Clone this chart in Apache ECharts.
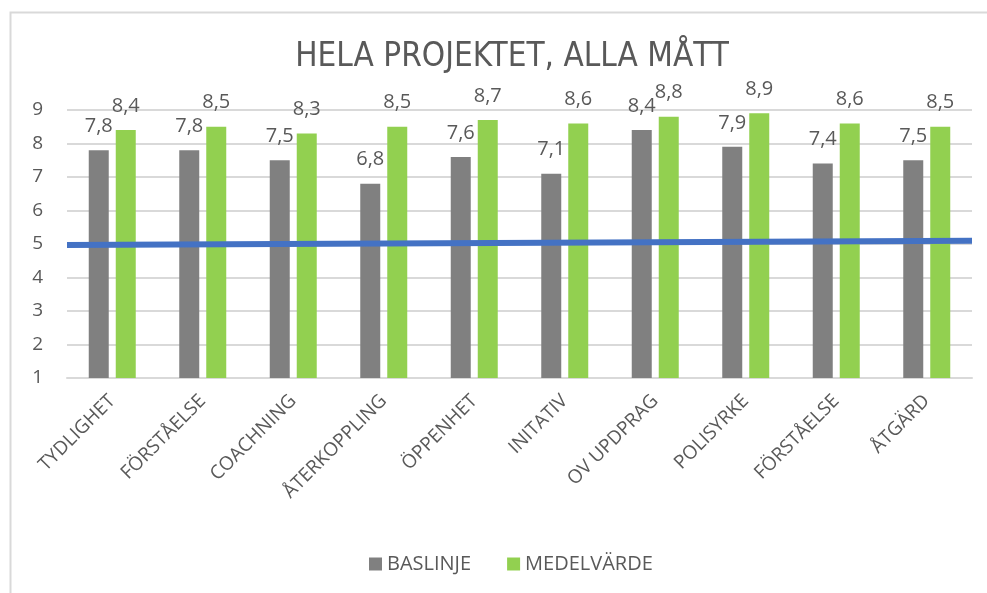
<!DOCTYPE html>
<html>
<head>
<meta charset="utf-8">
<script src="https://cdn.jsdelivr.net/npm/echarts@6/dist/echarts.min.js"></script>
<style>
  html, body { margin: 0; padding: 0; background: #fff; }
  #chart { width: 987px; height: 593px; }
</style>
</head>
<body>
<div id="chart"></div>
<script>
// Data
const categories = ['TYDLIGHET', 'FÖRSTÅELSE', 'COACHNING', 'ÅTERKOPPLING', 'ÖPPENHET',
                    'INITATIV', 'OV UPDPRAG', 'POLISYRKE', 'FÖRSTÅELSE', 'ÅTGÄRD'];
const baslinje = [7.8, 7.8, 7.5, 6.8, 7.6, 7.1, 8.4, 7.9, 7.4, 7.5];
const medelvarde = [8.4, 8.5, 8.3, 8.5, 8.7, 8.6, 8.8, 8.9, 8.6, 8.5];
// blue reference line, from left edge to right edge of the plot
const trendLine = [[0, 4.97], [1, 5.10]];
const yTicks = [1, 2, 3, 4, 5, 6, 7, 8, 9];

const textColor = '#595959';
const fmt = p => p.value.toFixed(1).replace('.', ',');

const myChart = echarts.init(document.getElementById('chart'));

const option = {
    backgroundColor: '#fff',
    animation: false,
    graphic: [{
        type: 'rect',
        left: 8, top: 10,
        shape: { width: 990, height: 600 },
        style: { fill: 'none', stroke: '#d9d9d9', lineWidth: 2 },
        silent: true
    }],
    title: {
        text: 'HELA PROJEKTET, ALLA MÅTT',
        left: 507,
        textAlign: 'center',
        top: 36,
        textStyle: {
            fontFamily: 'Liberation Sans Narrow, DejaVu Sans Condensed, sans-serif',
            fontWeight: 'normal',
            fontSize: 33,
            color: textColor
        }
    },
    legend: {
        data: ['BASLINJE', 'MEDELVÄRDE'],
        left: 364,
        top: 549,
        itemWidth: 13,
        itemHeight: 13,
        itemGap: 36,
        icon: 'rect',
        textStyle: { fontFamily: 'Open Sans', fontSize: 20, color: textColor }
    },
    grid: { left: 67, right: 15, top: 110, bottom: 215, containLabel: false },
    xAxis: [{
        type: 'category',
        data: categories,
        axisLine: { lineStyle: { color: '#d9d9d9', width: 2 } },
        axisTick: { show: false },
        axisLabel: {
            rotate: 45,
            interval: 0,
            margin: 20,
            fontFamily: 'Open Sans',
            fontSize: 19,
            color: textColor
        }
    }, {
        type: 'value',
        min: 0,
        max: 1,
        show: false
    }],
    yAxis: {
        type: 'value',
        min: yTicks[0],
        max: yTicks[yTicks.length - 1],
        interval: 1,
        axisLine: { show: false },
        axisTick: { show: false },
        splitLine: { lineStyle: { color: '#d9d9d9', width: 2 } },
        axisLabel: { fontFamily: 'Open Sans', fontSize: 19, color: textColor, margin: 24 }
    },
    series: [
        {
            name: 'BASLINJE',
            type: 'bar',
            data: baslinje,
            barWidth: 20,
            barGap: '35%',
            itemStyle: { color: '#808080' },
            label: {
                show: true, position: 'top', distance: 14,
                formatter: fmt,
                fontFamily: 'Open Sans', fontSize: 20, color: textColor
            }
        },
        {
            name: 'MEDELVÄRDE',
            type: 'bar',
            data: medelvarde,
            barWidth: 20,
            itemStyle: { color: '#92d050' },
            label: {
                show: true, position: 'top', distance: 14,
                formatter: fmt,
                fontFamily: 'Open Sans', fontSize: 20, color: textColor
            }
        },
        {
            name: 'trend',
            type: 'line',
            xAxisIndex: 1,
            data: trendLine,
            symbol: 'none',
            lineStyle: { color: '#4472c4', width: 6 },
            z: 5
        }
    ]
};

myChart.setOption(option);

window.addEventListener('resize', () => {
    myChart.resize();
});
</script>
</body>
</html>
